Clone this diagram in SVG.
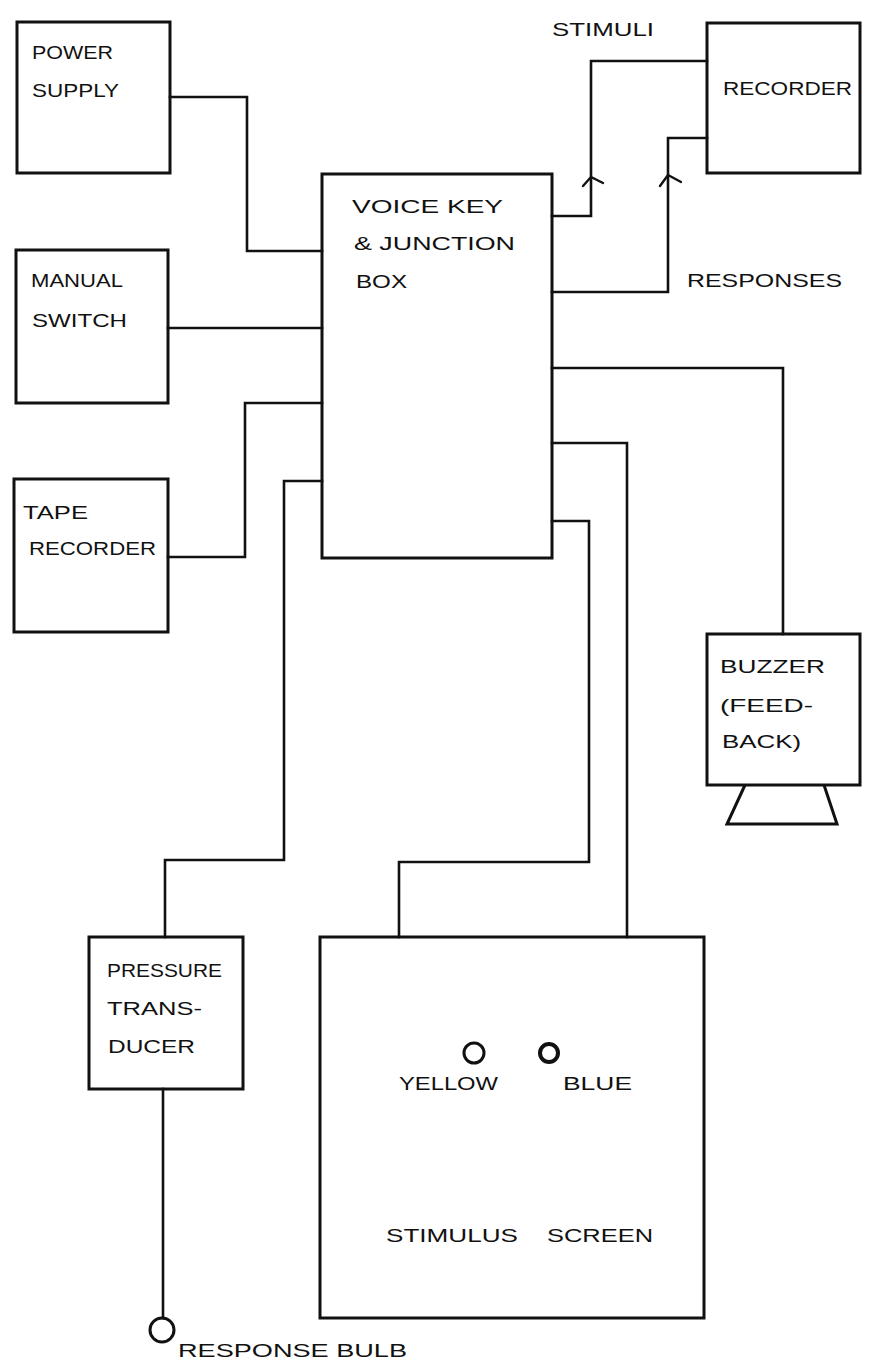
<svg xmlns="http://www.w3.org/2000/svg" width="869" height="1372" viewBox="0 0 869 1372">
<style>
.box{fill:none;stroke:#111;stroke-width:3;stroke-linejoin:miter}
.wire{fill:none;stroke:#111;stroke-width:2.6;stroke-linejoin:miter;stroke-linecap:square}
.arr{fill:none;stroke:#111;stroke-width:2.4;stroke-linecap:round;stroke-linejoin:round}
text{font-family:"Liberation Sans","DejaVu Sans",sans-serif;font-size:19px;fill:#111}
</style>
<rect width="869" height="1372" fill="#fff"/>
<g id="connectors">
  <polyline class="wire" points="170,97 247,97 247,251 322,251"/>
  <polyline class="wire" points="168,328 322,328"/>
  <polyline class="wire" points="168,557 245,557 245,403 322,403"/>
  <polyline class="wire" points="322,481 284,481 284,860 165,860 165,937"/>
  <polyline class="wire" points="552,216 591,216 591,61 707,61"/>
  <polyline class="wire" points="552,292 668,292 668,138 707,138"/>
  <polyline class="wire" points="552,368 783,368 783,634"/>
  <polyline class="wire" points="552,443 627,443 627,937"/>
  <polyline class="wire" points="552,521 589,521 589,862 399,862 399,937"/>
  <polyline class="wire" points="163,1089 163,1318"/>
  <polyline class="arr" points="583,186 591,177 603,183"/>
  <polyline class="arr" points="660,186 668,175 681,182"/>
</g>
<g id="power-supply">
  <rect class="box" x="17" y="22" width="153" height="151"/>
  <text x="32" y="59" textLength="81" lengthAdjust="spacingAndGlyphs">POWER</text>
  <text x="32" y="97" textLength="87" lengthAdjust="spacingAndGlyphs">SUPPLY</text>
</g>
<g id="manual-switch">
  <rect class="box" x="16" y="250" width="152" height="153"/>
  <text x="31" y="287" textLength="92" lengthAdjust="spacingAndGlyphs">MANUAL</text>
  <text x="32" y="327" textLength="95" lengthAdjust="spacingAndGlyphs">SWITCH</text>
</g>
<g id="tape-recorder">
  <rect class="box" x="14" y="479" width="154" height="153"/>
  <text x="23" y="519" textLength="65" lengthAdjust="spacingAndGlyphs">TAPE</text>
  <text x="29" y="555" textLength="127" lengthAdjust="spacingAndGlyphs">RECORDER</text>
</g>
<g id="voice-key">
  <rect class="box" x="322" y="174" width="230" height="384"/>
  <text x="352" y="213" textLength="151" lengthAdjust="spacingAndGlyphs">VOICE KEY</text>
  <text x="354" y="250" textLength="161" lengthAdjust="spacingAndGlyphs">&amp; JUNCTION</text>
  <text x="356" y="288" textLength="51" lengthAdjust="spacingAndGlyphs">BOX</text>
</g>
<g id="recorder">
  <rect class="box" x="707" y="23" width="153" height="150"/>
  <text x="723" y="95" textLength="129" lengthAdjust="spacingAndGlyphs">RECORDER</text>
</g>
<g id="labels">
  <text x="552" y="36" textLength="102" lengthAdjust="spacingAndGlyphs">STIMULI</text>
  <text x="687" y="287" textLength="155" lengthAdjust="spacingAndGlyphs">RESPONSES</text>
</g>
<g id="buzzer">
  <rect class="box" x="707" y="634" width="153" height="151"/>
  <polyline class="box" points="745,785 727,824 837,824 824,785"/>
  <text x="720" y="673" textLength="105" lengthAdjust="spacingAndGlyphs">BUZZER</text>
  <text x="720" y="712" textLength="93" lengthAdjust="spacingAndGlyphs">(FEED-</text>
  <text x="722" y="748" textLength="79" lengthAdjust="spacingAndGlyphs">BACK)</text>
</g>
<g id="pressure-transducer">
  <rect class="box" x="89" y="937" width="154" height="152"/>
  <text x="107" y="977" textLength="115" lengthAdjust="spacingAndGlyphs">PRESSURE</text>
  <text x="107" y="1015" textLength="95" lengthAdjust="spacingAndGlyphs">TRANS-</text>
  <text x="108" y="1053" textLength="87" lengthAdjust="spacingAndGlyphs">DUCER</text>
</g>
<g id="response-bulb">
  <circle class="box" cx="162" cy="1330" r="12"/>
  <text x="178" y="1357" textLength="229" lengthAdjust="spacingAndGlyphs">RESPONSE BULB</text>
</g>
<g id="stimulus-screen">
  <rect class="box" x="320" y="937" width="384" height="381"/>
  <circle class="box" cx="474" cy="1053" r="10"/>
  <circle class="box" cx="549" cy="1053" r="9" style="stroke-width:4"/>
  <text x="399" y="1090" textLength="99" lengthAdjust="spacingAndGlyphs">YELLOW</text>
  <text x="563" y="1090" textLength="69" lengthAdjust="spacingAndGlyphs">BLUE</text>
  <text x="386" y="1242" textLength="132" lengthAdjust="spacingAndGlyphs">STIMULUS</text>
  <text x="547" y="1242" textLength="106" lengthAdjust="spacingAndGlyphs">SCREEN</text>
</g>
</svg>
